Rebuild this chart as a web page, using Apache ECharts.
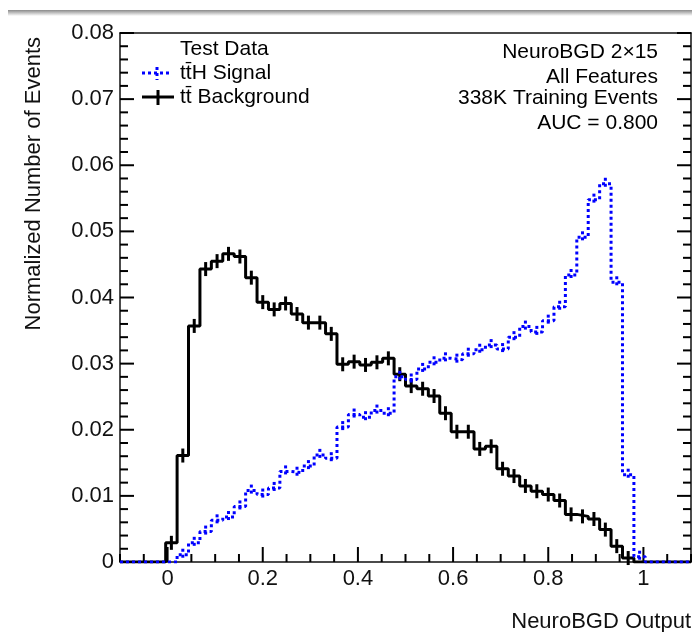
<!DOCTYPE html>
<html>
<head>
<meta charset="utf-8">
<title>NeuroBGD Output</title>
<script src="https://cdn.jsdelivr.net/npm/echarts@6/dist/echarts.min.js"></script>
<style>
  html, body { margin: 0; padding: 0; background: #fff; }
  #chart { width: 692px; height: 632px; }
</style>
</head>
<body>
<div id="chart"></div>
<script>
// 50 bins over [-0.1, 1.1]
const binStart = -0.1
const binWidth = 0.024

// ttH signal, normalized
const signal = [
  0, 0, 0, 0, 0, 0.0011, 0.0029, 0.0046, 0.0063, 0.0068,
  0.0084, 0.0108, 0.0102, 0.0112, 0.0137, 0.0135, 0.0145, 0.0162, 0.0157, 0.0204,
  0.0223, 0.0219, 0.0229, 0.0225, 0.0280, 0.0276, 0.0292, 0.0302, 0.0308, 0.0306,
  0.0315, 0.0321, 0.0328, 0.0322, 0.0340, 0.0356, 0.0348, 0.0365, 0.0386, 0.0434,
  0.0491, 0.0548, 0.0572, 0.0423, 0.0132, 0.0008, 0, 0, 0, 0
]

// tt background, normalized
const background = [
  0, 0, 0, 0, 0.0029, 0.0161, 0.0357, 0.0443, 0.0455, 0.0466,
  0.0462, 0.0430, 0.0393, 0.0382, 0.0391, 0.0375, 0.0362, 0.0362, 0.0345, 0.0299,
  0.0303, 0.0298, 0.0302, 0.0308, 0.0284, 0.0266, 0.0262, 0.0251, 0.0225, 0.0197,
  0.0197, 0.0171, 0.0175, 0.0141, 0.0130, 0.0115, 0.0107, 0.0102, 0.0093, 0.0072,
  0.0069, 0.0065, 0.0049, 0.0024, 0.0006, 0, 0, 0, 0, 0
]

const xMajorTicks = [0, 0.2, 0.4, 0.6, 0.8, 1]
const xMinorTicks = [-0.1, -0.05, 0.05, 0.1, 0.15, 0.25, 0.3, 0.35, 0.45, 0.5, 0.55,
  0.65, 0.7, 0.75, 0.85, 0.9, 0.95, 1.05, 1.1]
const yMajorTicks = [0, 0.01, 0.02, 0.03, 0.04, 0.05, 0.06, 0.07, 0.08]
const yMinorTicks = [
  0.002, 0.004, 0.006, 0.008, 0.012, 0.014, 0.016, 0.018,
  0.022, 0.024, 0.026, 0.028, 0.032, 0.034, 0.036, 0.038,
  0.042, 0.044, 0.046, 0.048, 0.052, 0.054, 0.056, 0.058,
  0.062, 0.064, 0.066, 0.068, 0.072, 0.074, 0.076, 0.078
]

const legendHeader = 'Test Data'
const signalName = 'tt\u0304H Signal'
const backgroundName = 'tt\u0304 Background'
const infoLines = ['NeuroBGD 2\u00d715', 'All Features', '338K Training Events', 'AUC = 0.800']

const FONT = "'Liberation Sans', Arial, Helvetica, sans-serif"
const BLUE = '#0000ff'
const INK = '#111'
const X_MIN = -0.1
const X_MAX = 1.1

const stepData = (vals) => {
  const pts = vals.map((v, i) => [binStart + i * binWidth, v])
  pts.push([binStart + vals.length * binWidth, vals[vals.length - 1]])
  return pts
}
const centers = (vals) =>
  vals.map((v, i) => [binStart + (i + 0.5) * binWidth, v]).filter((p) => p[1] > 0)

const errBar = (half, style) => (params, api) => {
  const p = api.coord([api.value(0), api.value(1)])
  return {
    type: 'line',
    shape: { x1: p[0], y1: p[1] - half, x2: p[0], y2: p[1] + half },
    style: style,
  }
}

// inward ticks, placed through the axis scales
const tickStyle = { stroke: '#000', lineWidth: 2 }
const xTickData = xMajorTicks.map((x) => [x, 0, 15]).concat(xMinorTicks.map((x) => [x, 0, 8]))
const yTickData = yMajorTicks.map((y) => [X_MIN, y, 14]).concat(yMinorTicks.map((y) => [X_MIN, y, 8]))

const renderXTick = (params, api) => {
  const p = api.coord([api.value(0), 0])
  const len = api.value(2)
  return { type: 'line', shape: { x1: p[0], y1: p[1], x2: p[0], y2: p[1] - len }, style: tickStyle }
}
const renderYTick = (params, api) => {
  const l = api.coord([X_MIN, api.value(1)])
  const r = api.coord([X_MAX, api.value(1)])
  const len = api.value(2)
  return {
    type: 'group',
    children: [
      { type: 'line', shape: { x1: l[0], y1: l[1], x2: l[0] + len, y2: l[1] }, style: tickStyle },
      { type: 'line', shape: { x1: r[0], y1: r[1], x2: r[0] - len, y2: r[1] }, style: tickStyle },
    ],
  }
}

const myChart = echarts.init(document.getElementById('chart'))

const option = {
  animation: false,
  grid: { left: 120, right: 1, top: 33, bottom: 70 },
  xAxis: [
    {
      type: 'value',
      min: X_MIN,
      max: X_MAX,
      splitLine: { show: false },
      axisLine: { show: true, onZero: false, lineStyle: { color: INK, width: 1.5 } },
      axisTick: { show: false },
      axisLabel: {
        customValues: xMajorTicks,
        margin: 6,
        fontSize: 22,
        fontFamily: FONT,
        color: INK,
        formatter: (v) => String(+v.toFixed(1)),
      },
    },
    {
      // top frame line
      type: 'value',
      min: X_MIN,
      max: X_MAX,
      position: 'top',
      splitLine: { show: false },
      axisLine: { show: true, onZero: false, lineStyle: { color: INK, width: 1.5 } },
      axisLabel: { show: false },
      axisTick: { show: false },
    },
  ],
  yAxis: [
    {
      type: 'value',
      min: 0,
      max: 0.08,
      interval: 0.01,
      splitLine: { show: false },
      axisLine: { show: true, onZero: false, lineStyle: { color: INK, width: 1.5 } },
      axisTick: { show: false },
      axisLabel: {
        margin: 6,
        fontSize: 22,
        fontFamily: FONT,
        color: INK,
        formatter: (v) => (v === 0 ? '0' : v.toFixed(2)),
      },
    },
    {
      type: 'value',
      min: 0,
      max: 0.08,
      interval: 0.01,
      position: 'right',
      splitLine: { show: false },
      axisLine: { show: true, onZero: false, lineStyle: { color: INK, width: 1.5 } },
      axisTick: { show: false },
      axisLabel: { show: false },
    },
  ],
  series: [
    {
      name: 'x ticks',
      type: 'custom',
      data: xTickData,
      renderItem: renderXTick,
      z: 2,
    },
    {
      name: 'y ticks',
      type: 'custom',
      data: yTickData,
      renderItem: renderYTick,
      z: 2,
    },
    {
      name: 'background',
      type: 'line',
      step: 'end',
      symbol: 'none',
      data: stepData(background),
      lineStyle: { color: '#000', width: 3 },
      z: 3,
    },
    {
      name: 'background err',
      type: 'custom',
      data: centers(background),
      renderItem: errBar(7, { stroke: '#000', lineWidth: 3 }),
      z: 3,
    },
    {
      name: 'signal',
      type: 'line',
      step: 'end',
      symbol: 'none',
      data: stepData(signal),
      lineStyle: { color: BLUE, width: 3, type: [3, 3] },
      z: 4,
    },
    {
      name: 'signal err',
      type: 'custom',
      data: centers(signal),
      renderItem: errBar(6, { stroke: BLUE, lineWidth: 3, lineDash: [3, 3] }),
      z: 4,
    },
  ],
  graphic: [
    // grey strip at the very top of the screenshot
    {
      type: 'rect',
      shape: { x: 8, y: 10, width: 684, height: 6 },
      style: {
        fill: new echarts.graphic.LinearGradient(0, 0, 0, 1, [
          { offset: 0, color: '#8a8a8a' },
          { offset: 1, color: '#ffffff' },
        ]),
      },
    },
    // legend
    { type: 'text', x: 180, y: 49, style: { text: legendHeader, fontSize: 21, fontFamily: FONT, fill: '#000', verticalAlign: 'middle' } },
    { type: 'line', shape: { x1: 142, y1: 73, x2: 172, y2: 73 }, style: { stroke: BLUE, lineWidth: 3, lineDash: [3, 3] } },
    { type: 'line', shape: { x1: 157, y1: 67, x2: 157, y2: 80 }, style: { stroke: BLUE, lineWidth: 3, lineDash: [3, 3] } },
    { type: 'text', x: 180, y: 73, style: { text: signalName, fontSize: 21, fontFamily: FONT, fill: '#000', verticalAlign: 'middle' } },
    { type: 'line', shape: { x1: 142, y1: 97, x2: 174, y2: 97 }, style: { stroke: '#000', lineWidth: 3 } },
    { type: 'line', shape: { x1: 158, y1: 90, x2: 158, y2: 105 }, style: { stroke: '#000', lineWidth: 3 } },
    { type: 'text', x: 180, y: 97, style: { text: backgroundName, fontSize: 21, fontFamily: FONT, fill: '#000', verticalAlign: 'middle' } },
    // info block
    { type: 'text', x: 658, y: 52, style: { text: infoLines[0], fontSize: 21, fontFamily: FONT, fill: '#000', align: 'right', verticalAlign: 'middle' } },
    { type: 'text', x: 658, y: 77, style: { text: infoLines[1], fontSize: 21, fontFamily: FONT, fill: '#000', align: 'right', verticalAlign: 'middle' } },
    { type: 'text', x: 658, y: 98, style: { text: infoLines[2], fontSize: 21, fontFamily: FONT, fill: '#000', align: 'right', verticalAlign: 'middle' } },
    { type: 'text', x: 658, y: 123, style: { text: infoLines[3], fontSize: 21, fontFamily: FONT, fill: '#000', align: 'right', verticalAlign: 'middle' } },
    // axis titles
    {
      type: 'text', x: 34, y: 37, rotation: Math.PI / 2,
      style: { text: 'Normalized Number of Events', fontSize: 22, fontFamily: FONT, fill: INK, align: 'right', verticalAlign: 'middle' },
    },
    {
      type: 'text', x: 691, y: 622,
      style: { text: 'NeuroBGD Output', fontSize: 22, fontFamily: FONT, fill: INK, align: 'right', verticalAlign: 'middle' },
    },
  ],
}

myChart.setOption(option)

window.addEventListener('resize', function () {
  myChart.resize()
})
</script>
</body>
</html>
